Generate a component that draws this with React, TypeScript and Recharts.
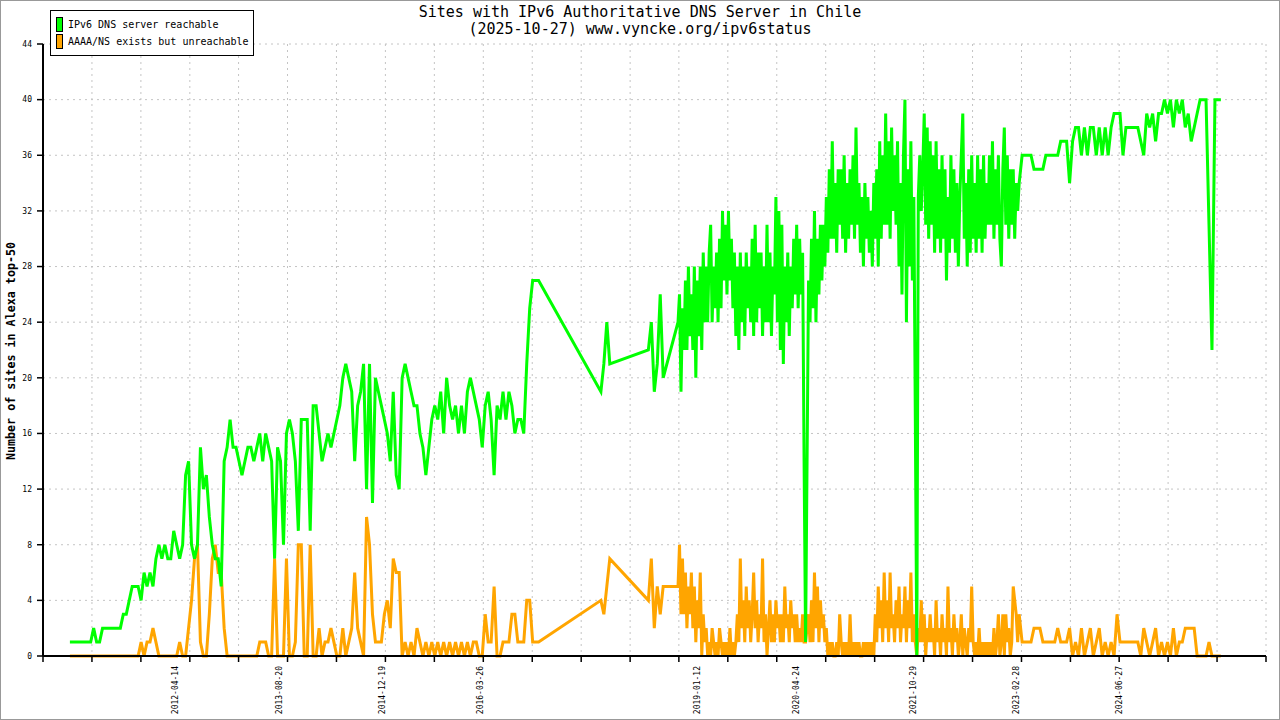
import { LineChart, Line, XAxis, YAxis, CartesianGrid, Legend } from "recharts";

// x values are days counted from 2012-04-14.
// Part A and C are sampled every 14 days, the busy part B every 7 days.
const startA = -496;
const stepA = 14;
const startB = 2374;
const stepB = 7;
const startC = 3984;
const stepC = 14;

const reachableA: (number | null)[] = [
  1, 1, 1, 1, 1, 1, 1, 1, 2, 1,
  1, 2, 2, 2, 2, 2, 2, 2, 3, 3,
  4, 5, 5, 5, 4, 6, 5, 6, 5, 7,
  8, 7, 8, 7, 7, 9, 8, 7, 8, 13,
  14, 8, 7, 8, 15, 12, 13, 10, 8, 7,
  7, 5, 14, 15, 17, 15, 15, 14, 13, 14,
  15, 15, 14, 15, 16, 14, 16, 15, 14, 7,
  15, 14, 8, 16, 17, 16, 14, 9, 17, 17,
  17, 9, 18, 18, 16, 14, 15, 16, 15, 16,
  17, 18, 20, 21, 20, 19, 14, 18, 19, 21,
  12, 21, 11, 20, 19, 18, 17, 16, 14, 19,
  13, 12, 20, 21, 20, 19, 18, 18, 16, 15,
  13, 15, 17, 18, 17, 19, 16, 20, 18, 17,
  18, 16, 18, 16, 19, 20, 19, 18, 17, 15,
  18, 19, 17, 13, 18, 17, 19, 17, 19, 18,
  16, 17, 17, 16, 21, 25, 27, 27, 27, null,
  null, null, null, null, null, null, null, null, null, null,
  null, null, null, null, null, null, null, null, null, 19,
  21, 24, 21, null, null, null, null, null, null, null,
  null, null, null, null, null, 22, 24, 19, 21, 26,
  20, null, null, null, null,
];

const unreachableA: (number | null)[] = [
  0, 0, 0, 0, 0, 0, 0, 0, 0, 0,
  0, 0, 0, 0, 0, 0, 0, 0, 0, 0,
  0, 0, 0, 0, 1, 0, 1, 1, 2, 1,
  0, 0, 0, 0, 0, 0, 0, 1, 0, 0,
  2, 4, 7, 8, 1, 0, 0, 3, 7, 8,
  6, 6, 2, 0, 0, 0, 0, 0, 0, 0,
  0, 0, 0, 0, 1, 1, 1, 0, 0, 7,
  0, 0, 0, 7, 0, 0, 1, 8, 8, 0,
  0, 8, 0, 0, 2, 0, 1, 1, 2, 1,
  0, 0, 2, 0, 1, 2, 6, 2, 1, 0,
  10, 8, 3, 1, 1, 1, 3, 4, 2, 7,
  6, 6, 0, 1, 0, 1, 0, 2, 1, 0,
  1, 0, 1, 0, 1, 0, 1, 0, 1, 0,
  1, 0, 1, 0, 1, 0, 1, 1, 0, 0,
  3, 1, 1, 5, 0, 0, 1, 1, 1, 3,
  3, 1, 1, 1, 4, 4, 1, 1, 1, null,
  null, null, null, null, null, null, null, null, null, null,
  null, null, null, null, null, null, null, null, null, 4,
  3, 5, 7, null, null, null, null, null, null, null,
  null, null, null, null, null, 4, 7, 2, 5, 3,
  5, null, null, null, null,
];

const reachableB = [
  24, 26, 19, 25, 22, 27, 22, 28, 23, 26,
  22, 28, 20, 27, 23, 28, 22, 29, 24, 28,
  24, 29, 31, 24, 28, 25, 29, 24, 30, 25,
  32, 27, 31, 26, 32, 27, 30, 25, 29, 23,
  28, 22, 29, 24, 28, 23, 29, 25, 28, 24,
  30, 23, 31, 24, 29, 25, 29, 23, 28, 24,
  31, 24, 29, 23, 28, 26, 33, 24, 32, 22,
  31, 21, 28, 24, 29, 23, 28, 25, 30, 26,
  31, 25, 30, 26, 29, 14, 1, 14, 27, 24,
  30, 25, 32, 24, 30, 26, 31, 27, 31, 28,
  33, 29, 35, 30, 37, 30, 34, 29, 35, 31,
  35, 30, 36, 29, 34, 30, 35, 31, 36, 30,
  38, 31, 34, 29, 33, 28, 34, 30, 33, 29,
  32, 28, 34, 30, 35, 28, 37, 30, 36, 31,
  39, 31, 37, 30, 38, 32, 36, 31, 37, 28,
  34, 26, 36, 40, 24, 35, 28, 37, 27, 33,
  17, 0, 33, 36, 32, 35, 39, 31, 38, 30,
  37, 31, 36, 29, 37, 30, 35, 29, 36, 30,
  35, 27, 33, 29, 36, 30, 35, 29, 34, 28,
  33, 36, 39, 30, 34, 28, 35, 29, 36, 30,
  34, 29, 36, 30, 35, 29, 36, 30, 34, 31,
  36, 31, 37, 30, 35, 31, 36, 30, 28, 35,
  38, 31, 36, 30, 35, 31, 35, 30, 34, 32,
];

const unreachableB = [
  5, 8, 3, 7, 3, 6, 2, 5, 3, 6,
  2, 5, 1, 4, 2, 6, 0, 3, 1, 2,
  0, 1, 0, 2, 1, 0, 1, 0, 2, 1,
  0, 1, 0, 1, 0, 2, 0, 1, 0, 1,
  3, 1, 7, 2, 4, 1, 5, 2, 4, 1,
  3, 6, 2, 4, 1, 3, 2, 7, 1, 3,
  0, 2, 4, 1, 3, 1, 4, 2, 3, 1,
  3, 1, 5, 2, 3, 1, 4, 2, 3, 1,
  3, 1, 2, 1, 3, 1, 1, 2, 3, 1,
  4, 1, 6, 2, 5, 1, 4, 2, 3, 1,
  2, 0, 1, 0, 1, 0, 0, 1, 0, 3,
  1, 0, 1, 0, 1, 0, 3, 0, 1, 0,
  1, 0, 1, 0, 0, 1, 0, 1, 0, 1,
  0, 1, 0, 3, 1, 5, 2, 4, 1, 6,
  2, 4, 1, 6, 2, 3, 1, 4, 2, 5,
  1, 3, 2, 5, 1, 4, 2, 6, 1, 3,
  1, 0, 2, 1, 4, 1, 3, 0, 2, 1,
  3, 1, 2, 0, 4, 1, 2, 0, 3, 1,
  2, 0, 5, 1, 2, 0, 3, 1, 2, 0,
  1, 3, 0, 2, 1, 0, 2, 1, 5, 1,
  0, 1, 0, 2, 0, 1, 0, 1, 0, 1,
  0, 1, 0, 2, 0, 1, 3, 0, 1, 3,
  0, 3, 1, 2, 0, 1, 5, 4, 3, 1,
];

const reachableC = [
  34, 36, 36, 36, 36, 35, 35, 35, 35, 36,
  36, 36, 36, 36, 37, 37, 37, 34, 37, 38,
  38, 36, 38, 36, 38, 38, 36, 38, 36, 38,
  36, 38, 39, 39, 39, 36, 38, 38, 38, 38,
  38, 37, 36, 39, 38, 39, 37, 39, 39, 40,
  39, 40, 38, 40, 39, 40, 38, 39, 37, 38,
  39, 40, 40, 40, 31, 22, 40, 40, 40,
];

const unreachableC = [
  3, 1, 1, 1, 1, 2, 2, 2, 1, 1,
  1, 1, 1, 2, 1, 1, 1, 2, 0, 1,
  0, 2, 0, 1, 2, 0, 1, 2, 0, 1,
  0, 1, 0, 3, 1, 1, 1, 1, 1, 1,
  1, 0, 2, 1, 0, 1, 2, 0, 1, 0,
  1, 0, 2, 0, 1, 1, 2, 2, 2, 2,
  0, 0, 0, 0, 1, 0, 0, 0, 0,
];

const dateLabels = [
  "2012-04-14", "2013-08-20", "2014-12-19", "2016-03-26", "2019-01-12",
  "2020-04-24", "2021-10-29", "2023-02-28", "2024-06-27",
];
const labelDays = [0, 493, 979, 1442, 2464, 2932, 3485, 3972, 4457];

const gridDays = [
  -623, -392, -161, 70, 300, 531, 762, 993, 1224, 1455, 1686, 1917, 2148,
  2378, 2609, 2840, 3071, 3302, 3533, 3764, 3995, 4226, 4456, 4687, 4918, 5149,
];
const yTicks = [0, 4, 8, 12, 16, 20, 24, 28, 32, 36, 40, 44];

const legendItems = [
  { name: "IPv6 DNS server reachable", color: "#00ff00" },
  { name: "AAAA/NS exists but unreachable", color: "#ffa500" },
];

function toRows(start: number, step: number, r: (number | null)[], u: (number | null)[]) {
  return r.map((v, i) => ({ day: start + i * step, reachable: v, unreachable: u[i] }));
}

const data = [
  ...toRows(startA, stepA, reachableA, unreachableA),
  ...toRows(startB, stepB, reachableB, unreachableB),
  ...toRows(startC, stepC, reachableC, unreachableC),
];

const mono = "'DejaVu Sans Mono', monospace";

function DateTick(props: any) {
  const { x, payload } = props;
  const y = 666;
  const label = dateLabels[labelDays.indexOf(payload.value)];
  return (
    <text
      x={x}
      y={y}
      dy="0.35em"
      transform={`rotate(-90 ${x} ${y})`}
      textAnchor="end"
      fontSize={8}
      fontFamily={mono}
      fill="#000"
    >
      {label}
    </text>
  );
}

function NoLabel() {
  return <g />;
}

function LegendBox() {
  return (
    <div style={{
      width: 204,
      boxSizing: "border-box",
      background: "#fff",
      border: "1px solid #000",
      padding: "6px 0 4px 5px",
      fontFamily: mono,
      fontSize: 10,
      color: "#000",
      whiteSpace: "nowrap",
    }}>
      {legendItems.map((item) => (
        <div key={item.name} style={{ display: "flex", alignItems: "center", height: 15, marginBottom: 2 }}>
          <span style={{
            display: "inline-block",
            width: 5,
            height: 13,
            background: item.color,
            border: "1px solid #000",
            marginRight: 5,
          }} />
          <span>{item.name}</span>
        </div>
      ))}
    </div>
  );
}

export default function App() {
  return (
    <div style={{ position: "absolute", left: 0, top: 0, width: 1280, height: 720, background: "#fff" }}>
      <div style={{
        position: "absolute",
        top: 4,
        left: 0,
        width: 1280,
        textAlign: "center",
        fontFamily: mono,
        fontSize: 15,
        lineHeight: "17px",
        color: "#000",
      }}>
        <div>Sites with IPv6 Authoritative DNS Server in Chile</div>
        <div>(2025-10-27) www.vyncke.org/ipv6status</div>
      </div>

      <div style={{
        position: "absolute",
        left: 11,
        top: 351,
        transform: "translate(-50%, -50%) rotate(-90deg)",
        whiteSpace: "nowrap",
        fontFamily: mono,
        fontWeight: "bold",
        fontSize: 11.7,
        color: "#000",
      }}>
        Number of sites in Alexa top-50
      </div>

      <LineChart
        width={1280}
        height={720}
        data={data}
        margin={{ top: 44, right: 14, bottom: 0, left: 0 }}
        style={{ position: "absolute", left: 0, top: 0 }}
      >
        <CartesianGrid xAxisId="a_tick" stroke="#c4c4c4" strokeDasharray="2 4" />
        <XAxis
          xAxisId="b_date"
          dataKey="day"
          type="number"
          domain={[-623, 5149]}
          ticks={labelDays}
          interval={0}
          tick={<DateTick />}
          height={54}
          axisLine={false}
          tickLine={false}
        />
        <XAxis
          xAxisId="a_tick"
          dataKey="day"
          type="number"
          domain={[-623, 5149]}
          ticks={gridDays}
          interval={0}
          tick={<NoLabel />}
          tickSize={6}
          height={10}
          axisLine={{ stroke: "#000", strokeWidth: 2 }}
          tickLine={{ stroke: "#000", strokeWidth: 1.5 }}
        />
        <YAxis
          type="number"
          domain={[0, 44]}
          ticks={yTicks}
          interval={0}
          width={43}
          tickSize={6}
          tickMargin={5}
          tick={{ fill: "#000", fontSize: 8, fontFamily: mono }}
          axisLine={{ stroke: "#000", strokeWidth: 2 }}
          tickLine={{ stroke: "#000", strokeWidth: 1.5 }}
        />
        <Legend
          layout="vertical"
          align="center"
          verticalAlign="middle"
          wrapperStyle={{ left: 50, top: 10, width: "auto" }}
          content={() => <LegendBox />}
        />
        <Line
          xAxisId="a_tick"
          type="linear"
          dataKey="unreachable"
          name="AAAA/NS exists but unreachable"
          stroke="#ffa500"
          strokeWidth={3}
          dot={false}
          connectNulls
          isAnimationActive={false}
        />
        <Line
          xAxisId="a_tick"
          type="linear"
          dataKey="reachable"
          name="IPv6 DNS server reachable"
          stroke="#00ff00"
          strokeWidth={3}
          dot={false}
          connectNulls
          isAnimationActive={false}
        />
      </LineChart>

      <div style={{
        position: "absolute",
        left: 0,
        top: 0,
        width: 1280,
        height: 720,
        boxSizing: "border-box",
        border: "1px solid #999",
        pointerEvents: "none",
      }} />
    </div>
  );
}
